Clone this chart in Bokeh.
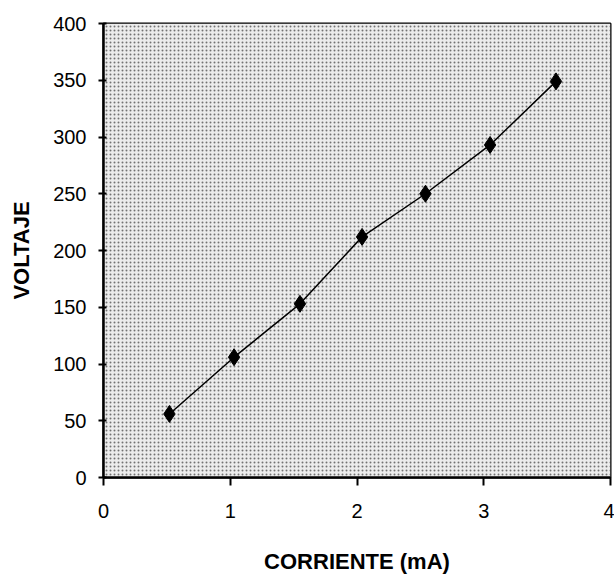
from bokeh.plotting import figure
from bokeh.embed import file_html
from bokeh.resources import INLINE
from bokeh.models import BoxAnnotation, FixedTicker, Range1d

corriente = [0.52, 1.03, 1.55, 2.04, 2.54, 3.05, 3.57]
voltaje = [56, 106, 153, 212, 250, 293, 349]
x_ticks = [0, 1, 2, 3, 4]
y_ticks = [0, 50, 100, 150, 200, 250, 300, 350, 400]

p = figure(width=614, height=577, output_backend="svg", toolbar_location=None,
           x_range=Range1d(0, 4), y_range=Range1d(0, 400),
           min_border_left=103, min_border_right=4, min_border_top=23, min_border_bottom=100)
p.background_fill_color = "white"
p.border_fill_color = "white"
p.outline_line_color = "black"
p.outline_line_width = 2

bg = BoxAnnotation(fill_color="#ececec", fill_alpha=1.0, hatch_pattern="dot",
                   hatch_color="#222222", hatch_scale=4, hatch_alpha=0.6,
                   line_color=None, level="underlay")
p.add_layout(bg)

p.xgrid.visible = False
p.ygrid.visible = False

for ax in (p.xaxis, p.yaxis):
    ax.axis_line_color = "black"
    ax.axis_line_width = 2.5
    ax.major_tick_line_color = "black"
    ax.major_tick_line_width = 2
    ax.minor_tick_line_color = None
    ax.major_label_text_font = "Liberation Sans"
    ax.major_label_text_font_size = "20px"
    ax.major_label_text_color = "black"
    ax.axis_label_text_font = "Liberation Sans"
    ax.axis_label_text_font_style = "bold"
    ax.axis_label_text_font_size = "22px"
    ax.axis_label_text_color = "black"

p.xaxis.ticker = FixedTicker(ticks=x_ticks)
p.yaxis.ticker = FixedTicker(ticks=y_ticks)
p.xaxis.major_tick_out = 8
p.xaxis.major_tick_in = 0
p.yaxis.major_tick_out = 5
p.yaxis.major_tick_in = 3
p.xaxis.major_label_standoff = 18
p.yaxis.major_label_standoff = 12
p.xaxis.axis_label = "CORRIENTE (mA)"
p.yaxis.axis_label = "VOLTAJE"
p.xaxis.axis_label_standoff = 28
p.yaxis.axis_label_standoff = 16

p.line(corriente, voltaje, line_color="black", line_width=1.5)
p.scatter(corriente, voltaje, marker="diamond", size=17, fill_color="black", line_color="black")

open("out.html", "w").write(file_html(p, INLINE))
